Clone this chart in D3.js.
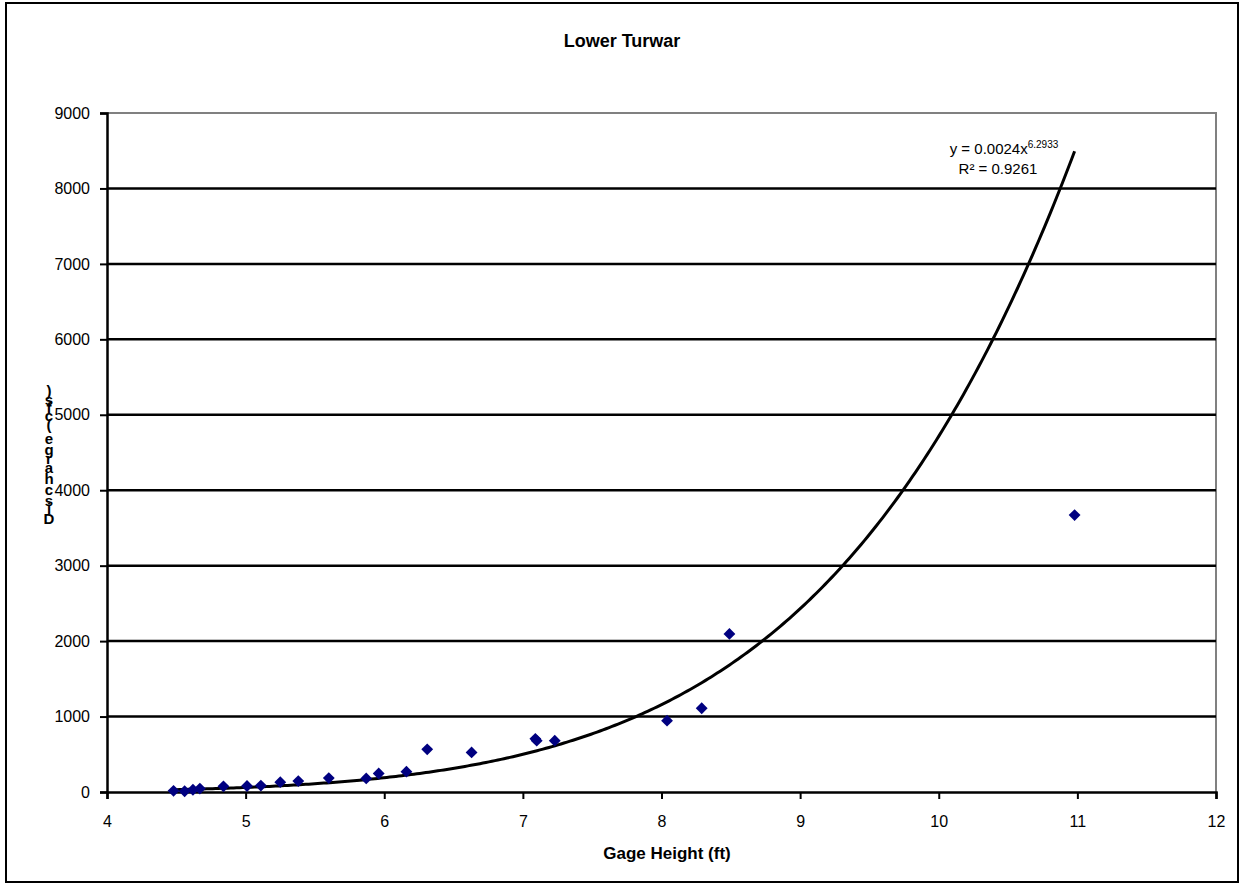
<!DOCTYPE html>
<html>
<head>
<meta charset="utf-8">
<script src="https://cdn.jsdelivr.net/npm/d3@7"></script>
<style>
  body { margin: 0; background: #fff; }
  text { font-family: "Liberation Sans", Arial, sans-serif; }
</style>
</head>
<body>
<div id="chart"></div>
<script>
var width = 1243;
var height = 886;

var title = "Lower Turwar";
var xTitle = "Gage Height (ft)";
var yTitle = "Discharge (cfs)";

var gageHeight = [4.48, 4.56, 4.62, 4.67, 4.84, 5.01, 5.11, 5.25, 5.38, 5.60, 5.87, 5.96,
                  6.16, 6.31, 6.63, 7.09, 7.10, 7.23, 8.04, 8.29, 8.49, 10.98];
var discharge = [15, 10, 30, 45, 75, 80, 85, 130, 145, 185, 180, 245,
                 270, 565, 525, 705, 680, 680, 945, 1110, 2095, 3670];

var xTicks = [4, 5, 6, 7, 8, 9, 10, 11, 12];
var yTicks = [0, 1000, 2000, 3000, 4000, 5000, 6000, 7000, 8000, 9000];

// power trendline shown on the chart
var trendA = 0.0024;
var trendB = 6.2933;
var trendR2 = "0.9261";

var plot = {left: 107, right: 1216, top: 113, bottom: 792};

var svg = d3.select("#chart").append("svg")
    .attr("width", width)
    .attr("height", height);

// chart area border
svg.append("rect")
    .attr("x", 6).attr("y", 3)
    .attr("width", 1232).attr("height", 879)
    .attr("fill", "#fff")
    .attr("stroke", "#000")
    .attr("stroke-width", 2);

var x = d3.scaleLinear().domain([4, 12]).range([plot.left, plot.right]);
var y = d3.scaleLinear().domain([0, 9000]).range([plot.bottom, plot.top]);

// plot area border (top/right are grey)
svg.append("path")
    .attr("d", `M${plot.left},${plot.top}H${plot.right}V${plot.bottom}`)
    .attr("fill", "none")
    .attr("stroke", "#808080")
    .attr("stroke-width", 2);

// gridlines
svg.append("g").selectAll("line")
    .data(yTicks.filter(d => d > 0 && d < 9000))
    .enter().append("line")
    .attr("x1", plot.left).attr("x2", plot.right)
    .attr("y1", d => y(d)).attr("y2", d => y(d))
    .attr("stroke", "#000")
    .attr("stroke-width", 2.5);

var xAxis = svg.append("g")
    .attr("transform", `translate(0,${plot.bottom})`)
    .call(d3.axisBottom(x).tickValues(xTicks).tickSize(7).tickPadding(17).tickFormat(d3.format("d")));

var yAxis = svg.append("g")
    .attr("transform", `translate(${plot.left},0)`)
    .call(d3.axisLeft(y).tickValues(yTicks).tickSize(7).tickPadding(10).tickFormat(d3.format("d")));

[xAxis, yAxis].forEach(function(ax) {
    ax.select(".domain").attr("stroke", "#000").attr("stroke-width", 2.5);
    ax.selectAll(".tick line").attr("stroke", "#000").attr("stroke-width", 2);
    ax.selectAll(".tick text")
        .attr("fill", "#000")
        .style("font-size", "16px")
        .style("font-family", "'Liberation Sans', Arial, sans-serif");
});

// trendline
var xMin = d3.min(gageHeight), xMax = d3.max(gageHeight);
var trendPts = d3.range(0, 301).map(i => {
    var gx = xMin + (xMax - xMin) * i / 300;
    return [gx, trendA * Math.pow(gx, trendB)];
});
svg.append("path")
    .datum(trendPts)
    .attr("d", d3.line().x(d => x(d[0])).y(d => y(d[1])))
    .attr("fill", "none")
    .attr("stroke", "#000")
    .attr("stroke-width", 3);

// data markers
var points = gageHeight.map((g, i) => ({g: g, q: discharge[i]}));
svg.append("g").selectAll("path")
    .data(points)
    .enter().append("path")
    .attr("d", d3.symbol().type(d3.symbolSquare).size(70))
    .attr("transform", d => `translate(${x(d.g)},${y(d.q)}) rotate(45)`)
    .attr("fill", "#000080");

// trendline label
var eq = svg.append("text")
    .attr("x", 1004).attr("y", 154)
    .attr("text-anchor", "middle")
    .style("font-size", "15px");
eq.append("tspan").text("y = " + trendA + "x");
eq.append("tspan").attr("dy", -6).style("font-size", "10px").text(trendB);
svg.append("text")
    .attr("x", 998).attr("y", 174)
    .attr("text-anchor", "middle")
    .style("font-size", "15px")
    .text("R\u00b2 = " + trendR2);

// titles
svg.append("text")
    .attr("x", 622).attr("y", 47)
    .attr("text-anchor", "middle")
    .style("font-size", "18px")
    .style("font-weight", "bold")
    .text(title);

svg.append("text")
    .attr("x", 667).attr("y", 859)
    .attr("text-anchor", "middle")
    .style("font-size", "17px")
    .style("font-weight", "bold")
    .text(xTitle);

// y title: upright glyphs stacked bottom to top, overlapping like the source
var yLab = svg.append("g");
var chars = yTitle.split("");
var cy = 518;
var prevW = 0;
chars.forEach(function(c, i) {
    var t = yLab.append("text")
        .attr("x", 49)
        .attr("text-anchor", "middle")
        .attr("dominant-baseline", "central")
        .style("font-size", "15px")
        .style("font-weight", "bold")
        .text(c);
    var w = (c === " " ? 4.2 : t.node().getComputedTextLength()) * 19 / 15;
    if (i > 0) cy -= (prevW + w) / 2;
    t.attr("y", cy);
    prevW = w;
});
</script>
</body>
</html>
